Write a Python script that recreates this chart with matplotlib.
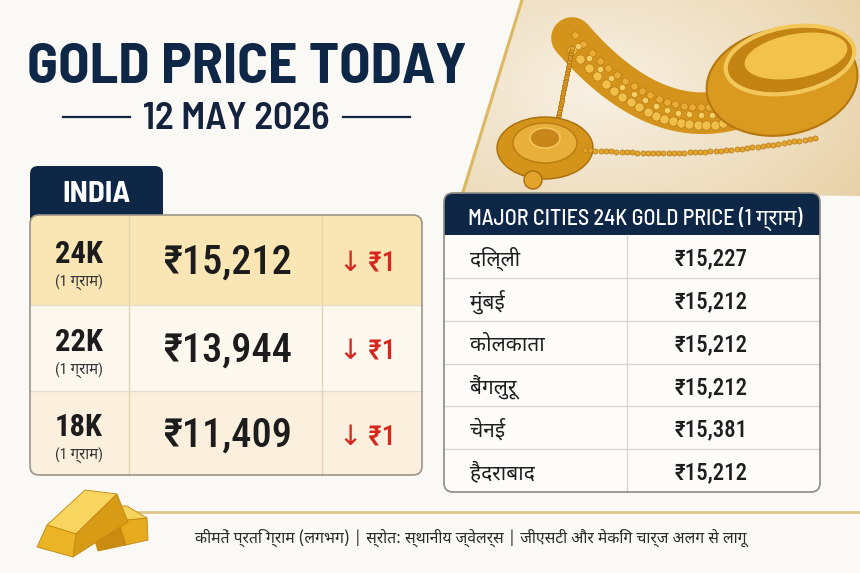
import numpy as np
import matplotlib
matplotlib.use("Agg")
import matplotlib.pyplot as plt
from matplotlib.patches import FancyBboxPatch, Rectangle, Polygon, Ellipse, Circle
from matplotlib.colors import to_rgb

# ── Data ─────────────────────────────────────────────────────────────────────
TITLE = "GOLD PRICE TODAY"
DATE = "12 MAY 2026"
REGION = "INDIA"
UNIT = "(1 ग्राम)"

KARATS = ["24K", "22K", "18K"]
PRICES = [15212, 13944, 11409]
CHANGES = [-1, -1, -1]

CITY_HEADER = "MAJOR CITIES 24K GOLD PRICE (1 ग्राम)"
CITIES = ["दिल्ली", "मुंबई", "कोलकाता", "बैंगलुरू", "चेनई", "हैदराबाद"]
CITY_PRICES = [15227, 15212, 15212, 15212, 15381, 15212]

FOOTER = "कीमतें प्रति ग्राम (लगभग) | स्रोत: स्थानीय ज्वेलर्स | जीएसटी और मेकिंग चार्ज अलग से लागू"

# ── Style ────────────────────────────────────────────────────────────────────
NAVY = "#0f2747"
BG = "#fbf9f5"
RED = "#d7261e"
DEVA = "Noto Sans Devanagari"
HEAD_FONT = ["Barlow Semi Condensed", DEVA, "DejaVu Sans"]
NUM_FONT = ["Roboto Condensed", DEVA, "DejaVu Sans"]
ROW_FILLS = ["#f9e6b4", "#fdf8ee", "#fbf0dd"]

W, H = 860, 573
fig = plt.figure(figsize=(W / 100, H / 100), dpi=100, facecolor=BG)
ax = fig.add_axes([0, 0, 1, 1])
ax.set_xlim(0, W)
ax.set_ylim(H, 0)
ax.axis("off")
renderer = fig.canvas.get_renderer()


def fit(t, width):
    bb = t.get_window_extent(renderer)
    t.set_fontsize(t.get_fontsize() * width / bb.width)
    return t


def rupee(v):
    return f"₹{v:,}"


# ── Jewellery photo panel (drawn) ────────────────────────────────────────────
panel = Polygon([(522, 0), (W, 0), (W, 196), (463, 192)], closed=True,
                facecolor="none", edgecolor="none")
ax.add_patch(panel)
gy, gx = np.mgrid[0:1:120j, 0:1:240j]
d = np.clip(np.hypot(gx - 0.35, (gy - 0.45) * 0.8), 0, 1)
c1, c2 = np.array(to_rgb("#f8f1e4")), np.array(to_rgb("#e4c998"))
grad = c1 * (1 - d[..., None]) + c2 * d[..., None]
im = ax.imshow(grad, extent=(460, W, 196, 0), aspect="auto", zorder=1)
im.set_clip_path(panel)

# choker (behind the bangle)
tt = np.linspace(0, 1, 60)
cx = 572 + 165 * tt
cy = 38 + 190 * tt - 120 * tt ** 2
ax.plot(cx, cy, color="#d4941c", lw=30, solid_capstyle="round", zorder=2, clip_path=panel)
ax.scatter(cx[::3], cy[::3] + 12, s=45, color="#f1c04a", ec="#b87a12", lw=0.5, zorder=2.1,
           clip_path=panel)
ax.scatter(cx[1::3], cy[1::3] - 6, s=28, color="#e9ad35", ec="#b87a12", lw=0.5, zorder=2.1,
           clip_path=panel)
ax.scatter(cx[2::4], cy[2::4] + 2, s=20, color="#f6cf66", ec="#b87a12", lw=0.4, zorder=2.1,
           clip_path=panel)

jewel = []
# bangle
jewel.append(Ellipse((782, 82), 152, 106, angle=-10, fc="#d99a1f", ec="#b57710", lw=1.5))
jewel.append(Ellipse((790, 60), 130, 66, angle=-10, fc="#c48414", ec="#f2c85a", lw=3))
jewel.append(Ellipse((796, 56), 104, 44, angle=-10, fc="#f3c24c", ec="none"))
# pendant
jewel.append(Ellipse((545, 148), 96, 62, fc="#d4941a", ec="#a86d0e", lw=1))
jewel.append(Ellipse((545, 143), 64, 40, fc="#e8b03a", ec="#b87a12", lw=1))
jewel.append(Ellipse((545, 138), 30, 20, fc="#c9861a", ec="#f4cb62", lw=1))
jewel.append(Circle((533, 180), 9, fc="#e2a42a", ec="#a86d0e", lw=1))
for p in jewel:
    p.set_zorder(2.5)
    ax.add_patch(p)
    p.set_clip_path(panel)

# chain
ch = np.linspace(0, 1, 45)
chx = 585 + 230 * ch
chy = 150 + 8 * np.sin(np.pi * ch) - 12 * ch
ax.scatter(chx, chy, s=14, color="#e3a52a", ec="#a86d0e", lw=0.4, zorder=3, clip_path=panel)
chx2 = 558 + 14 * ch
chy2 = 118 - 70 * ch
ax.scatter(chx2, chy2, s=10, color="#e3a52a", ec="#a86d0e", lw=0.4, zorder=2.2, clip_path=panel)
ax.plot([522, 463], [0, 192], color="#dcb862", lw=2.2, zorder=4)

# ── Title ────────────────────────────────────────────────────────────────────
t = ax.text(247, 83, TITLE, ha="center", va="baseline", fontsize=44,
            fontweight="bold", color=NAVY, family=HEAD_FONT)
fit(t, 440)
t = ax.text(236, 129, DATE, ha="center", va="baseline", fontsize=24,
            fontweight="semibold", color="#14233d", family=HEAD_FONT)
fit(t, 187)
ax.plot([63, 130], [117, 117], color="#14233d", lw=1.6)
ax.plot([343, 410], [117, 117], color="#14233d", lw=1.6)

# ── India table ──────────────────────────────────────────────────────────────
ax.add_patch(FancyBboxPatch((30, 166), 133, 60, boxstyle="round,pad=0,rounding_size=8",
                            fc=NAVY, ec="none", zorder=2))
t = ax.text(97, 202, REGION, ha="center", va="baseline", fontsize=22,
            fontweight="bold", color="white", family=HEAD_FONT, zorder=3)
fit(t, 68)

row_edges = [215, 305, 391, 475]
col_x = [30, 129, 322, 422]
box = FancyBboxPatch((30, 215), 392, 260, boxstyle="round,pad=0,rounding_size=9",
                     fc="none", ec="#9b958a", lw=1.2, zorder=5)
ax.add_patch(box)
for i in range(len(KARATS)):
    top, bot = row_edges[i], row_edges[i + 1]
    r = Rectangle((30, top), 392, bot - top, fc=ROW_FILLS[i], ec="none", zorder=3)
    ax.add_patch(r)
    r.set_clip_path(box)
    if i > 0:
        ax.plot([30, 422], [top, top], color="#e6dccb", lw=1, zorder=4)
    mid = (top + bot) / 2
    t = ax.text(79, mid + 3, KARATS[i], ha="center", va="baseline", fontsize=24,
                fontweight="bold", color="#1c1c1c", family=NUM_FONT, zorder=6)
    fit(t, 48)
    t = ax.text(79, mid + 27, UNIT, ha="center", va="baseline", fontsize=11,
                color="#333333", family=NUM_FONT, zorder=6)
    fit(t, 48)
    ax.text(228, mid + 14, rupee(PRICES[i]), ha="center", va="baseline", fontsize=29,
            fontweight="medium", color="#1c1c1c", family=NUM_FONT, zorder=6)
    arrow = "↓" if CHANGES[i] < 0 else "↑"
    ax.text(367, mid + 12, f"{arrow} ₹{abs(CHANGES[i])}", ha="center", va="baseline",
            fontsize=20, fontweight="medium", color=RED, family=NUM_FONT, zorder=6)
for x in col_x[1:3]:
    ax.plot([x, x], [215, 475], color="#e2d3b2", lw=1, zorder=4)

# ── Cities table ─────────────────────────────────────────────────────────────
ax.add_patch(FancyBboxPatch((444, 193), 376, 299, boxstyle="round,pad=0,rounding_size=9",
                            fc="#fdfcfa", ec="none", zorder=2))
ctab = FancyBboxPatch((444, 193), 376, 299, boxstyle="round,pad=0,rounding_size=9",
                      fc="none", ec="#8f8b84", lw=1.2, zorder=5)
ax.add_patch(ctab)
hdr = Rectangle((444, 193), 376, 42, fc=NAVY, ec="none", zorder=3)
ax.add_patch(hdr)
hdr.set_clip_path(ctab)
t = ax.text(635, 225, CITY_HEADER, ha="center", va="baseline", fontsize=15,
            fontweight="medium", color="white", family=HEAD_FONT, zorder=6)
fit(t, 334)
row_h = (492 - 235) / len(CITIES)
for i, (city, price) in enumerate(zip(CITIES, CITY_PRICES)):
    top = 235 + i * row_h
    if i > 0:
        ax.plot([444, 820], [top, top], color="#dcd8d0", lw=1, zorder=4)
    mid = top + row_h / 2
    ax.text(470, mid + 9, city, ha="left", va="baseline", fontsize=15,
            fontweight="medium", color="#1e1e1e", family=[DEVA, "DejaVu Sans"], zorder=6)
    ax.text(711, mid + 9, rupee(price), ha="center", va="baseline", fontsize=16.5,
            fontweight="medium", color="#1e1e1e", family=NUM_FONT, zorder=6)
ax.plot([627, 627], [235, 492], color="#dcd8d0", lw=1, zorder=4)

# ── Footer ───────────────────────────────────────────────────────────────────
ax.plot([97, W], [512, 512], color="#e0c68a", lw=2, zorder=2)
t = ax.text(471, 543, FOOTER, ha="center", va="baseline", fontsize=10.5,
            color="#2b2b2b", family=[DEVA, "DejaVu Sans"], zorder=6)
fit(t, 553)

# gold bars (back bar first, then front bar)
bars = [
    ([(72, 505), (127, 506), (147, 518), (118, 521)], "#f6d35c"),
    ([(118, 521), (147, 518), (148, 540), (126, 545)], "#e6ab1f"),
    ([(92, 531), (118, 521), (126, 545), (98, 551)], "#c98b10"),
    ([(47, 525), (85, 490), (117, 494), (76, 534)], "#f7d55e"),
    ([(76, 534), (117, 494), (128, 522), (73, 557)], "#d79b16"),
    ([(47, 525), (76, 534), (73, 557), (37, 547)], "#eab426"),
]
for pts, col in bars:
    ax.add_patch(Polygon(pts, closed=True, fc=col, ec="#c0880f", lw=0.6, zorder=6))

fig.savefig("out.png", dpi=100, facecolor=BG)
